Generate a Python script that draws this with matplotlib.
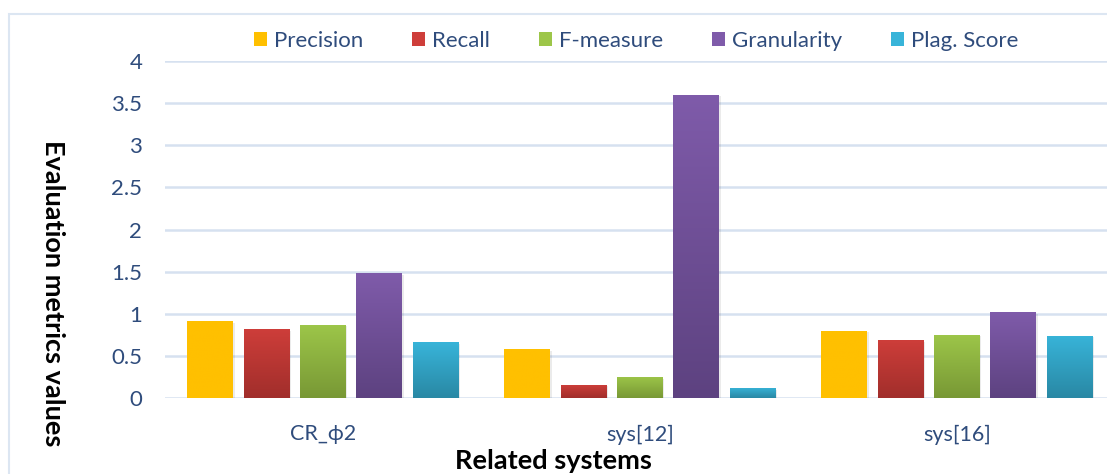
import matplotlib
matplotlib.use("Agg")
import matplotlib.pyplot as plt
import numpy as np
from matplotlib.patches import Rectangle
from matplotlib.colors import LinearSegmentedColormap

categories = ["CR_\u03d52", "sys[12]", "sys[16]"]
series_names = ["Precision", "Recall", "F-measure", "Granularity", "Plag. Score"]
precision = [0.91, 0.58, 0.80]
recall = [0.82, 0.16, 0.69]
f_measure = [0.87, 0.25, 0.75]
granularity = [1.48, 3.60, 1.02]
plag_score = [0.66, 0.12, 0.74]
y_ticks = [0, 0.5, 1, 1.5, 2, 2.5, 3, 3.5, 4]
y_tick_labels = ["0", "0.5", "1", "1.5", "2", "2.5", "3", "3.5", "4"]

series = [precision, recall, f_measure, granularity, plag_score]
top_colors = ["#FFC000", "#CE3E3A", "#9DC649", "#7F5BAA", "#38B4D9"]
bot_colors = ["#FFC000", "#A12E2B", "#789835", "#5D4280", "#2988A4"]

FONT = ["Lato", "DejaVu Sans"]
plt.rcParams['font.family'] = FONT
tick_color = "#2F4C7C"
grid_color = "#D6E1F0"

W, H = 1107, 474
fig = plt.figure(figsize=(W / 100, H / 100), dpi=100)
fig.patch.set_facecolor("white")

# chart border (extends beyond image on right/bottom)
fig.patches.append(Rectangle((9 / W, -0.1), 1.2, (474 - 14) / H + 0.1,
                             transform=fig.transFigure, fill=False,
                             edgecolor="#DCE6F2", linewidth=1.5))

ax = fig.add_axes([164.5 / W, 76 / H, 951 / W, 337 / H])
ax.set_xlim(-0.5, 2.5)
ax.set_ylim(0, 4)
for s in ax.spines.values():
    s.set_visible(False)
ax.set_yticks(y_ticks)
ax.set_yticklabels(y_tick_labels)
ax.yaxis.grid(True, color=grid_color, linewidth=1.8)
ax.set_axisbelow(True)
ax.tick_params(axis='y', length=0, pad=16, labelsize=16, labelcolor=tick_color)
x = np.arange(len(categories))
ax.set_xticks(x)
ax.set_xticklabels(categories)
ax.tick_params(axis='x', length=0, pad=19, labelsize=15.5, labelcolor=tick_color)

bw = 0.145
step = 0.1776
handles = []
for i, (name, vals) in enumerate(zip(series_names, series)):
    xs = x + (i - 2) * step
    # shadow
    ax.bar(xs + 0.004, vals, width=bw, bottom=-0.02, color="#000000", alpha=0.08,
           zorder=2, linewidth=0)
    bars = ax.bar(xs, vals, width=bw, color=top_colors[i], zorder=3, linewidth=0,
                  label=name)
    cmap = LinearSegmentedColormap.from_list("g%d" % i, [bot_colors[i], top_colors[i]])
    for b in bars:
        x0 = b.get_x()
        h = b.get_height()
        grad = np.linspace(0, 1, 256).reshape(-1, 1)
        im = ax.imshow(grad, cmap=cmap, origin='lower', aspect='auto',
                       extent=(x0, x0 + bw, 0, h), zorder=3.5)
        im.set_clip_path(b)
    handles.append(Rectangle((0, 0), 1, 1, facecolor=top_colors[i], edgecolor='none'))
ax.set_xlim(-0.5, 2.5)
ax.set_ylim(0, 4)

leg = fig.legend(handles, series_names, loc='center', bbox_to_anchor=(636 / W, 1 - 41 / H),
                 ncol=5, frameon=False, fontsize=16, handlelength=0.6, handleheight=0.6,
                 handletextpad=0.3, columnspacing=2.2)
for t in leg.get_texts():
    t.set_color(tick_color)

fig.text(53 / W, 1 - 293 / H, "Evaluation metrics values", rotation=270,
         ha='center', va='center', fontsize=19.5, fontweight='bold', color='black')
fig.text(553 / W, 1 - 461 / H, "Related systems", ha='center', va='center',
         fontsize=19.5, fontweight='bold', color='black')

fig.savefig("out.png", dpi=100, facecolor="white")
